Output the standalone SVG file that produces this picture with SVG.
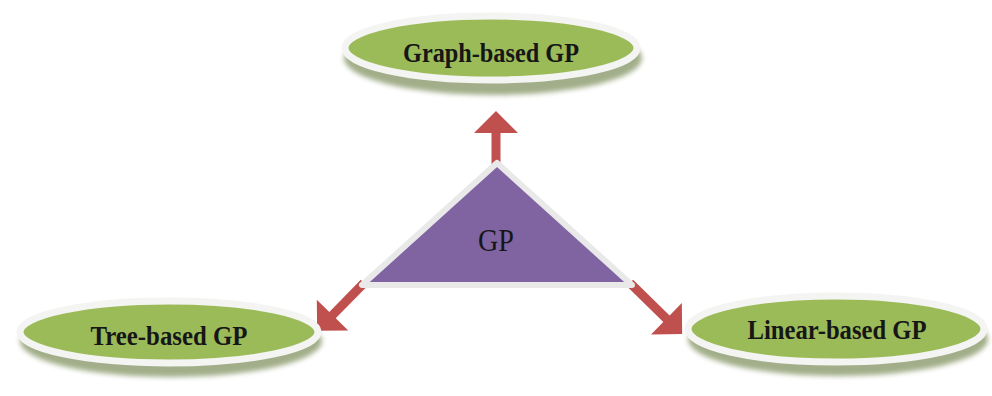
<svg xmlns="http://www.w3.org/2000/svg" width="992" height="396" viewBox="0 0 992 396">
  <defs>
    <filter id="soft" x="-10%" y="-30%" width="120%" height="160%">
      <feGaussianBlur stdDeviation="2.5"/>
    </filter>
  </defs>
  <style>
    .shadow { fill: #8a9a6c; opacity: 0.8; }
    .oval { fill: #9bbb59; stroke: #f4f4f2; stroke-width: 7; }
    .label { font-family: "Liberation Serif", "Times New Roman", serif; font-weight: bold; font-size: 28px; fill: #161616; text-anchor: middle; }
    .center-label { font-family: "Liberation Serif", "Times New Roman", serif; font-size: 31px; fill: #161616; text-anchor: middle; }
    .conn { fill: #c0504d; }
    .tri { fill: #8064a2; stroke: #e9e9ea; stroke-width: 6; stroke-linejoin: round; }
  </style>

  <!-- connectors: block arrows from the triangle out to each oval -->
  <g id="connectors">
    <path class="conn" transform="translate(496,166) rotate(-90)" d="M0,-4.5 L33,-4.5 L33,-22 L55,0 L33,22 L33,4.5 L0,4.5 Z"/>
    <path class="conn" transform="translate(364,283) rotate(134.4)" d="M0,-4.5 L45,-4.5 L45,-22 L67,0 L45,22 L45,4.5 L0,4.5 Z"/>
    <path class="conn" transform="translate(630,283) rotate(44.4)" d="M0,-4.5 L51,-4.5 L51,-22 L73,0 L51,22 L51,4.5 L0,4.5 Z"/>
  </g>

  <!-- central triangle -->
  <g id="gp">
    <polygon class="tri" points="497,163 362,285 632,285"/>
    <text class="center-label" x="496" y="251" textLength="36" lengthAdjust="spacingAndGlyphs">GP</text>
  </g>

  <!-- top oval -->
  <g id="graph-based">
    <ellipse class="shadow" cx="493" cy="58" rx="149" ry="37" filter="url(#soft)"/>
    <ellipse class="oval" cx="491" cy="48" rx="146" ry="32"/>
    <text class="label" x="491" y="62" textLength="176" lengthAdjust="spacingAndGlyphs">Graph-based GP</text>
  </g>

  <!-- left oval -->
  <g id="tree-based">
    <ellipse class="shadow" cx="171" cy="341" rx="151" ry="36" filter="url(#soft)"/>
    <ellipse class="oval" cx="169" cy="332" rx="149" ry="31"/>
    <text class="label" x="169" y="345" textLength="157" lengthAdjust="spacingAndGlyphs">Tree-based GP</text>
  </g>

  <!-- right oval -->
  <g id="linear-based">
    <ellipse class="shadow" cx="838" cy="339" rx="150" ry="37" filter="url(#soft)"/>
    <ellipse class="oval" cx="836" cy="329" rx="148" ry="33"/>
    <text class="label" x="837" y="339" textLength="179" lengthAdjust="spacingAndGlyphs">Linear-based GP</text>
  </g>
</svg>
